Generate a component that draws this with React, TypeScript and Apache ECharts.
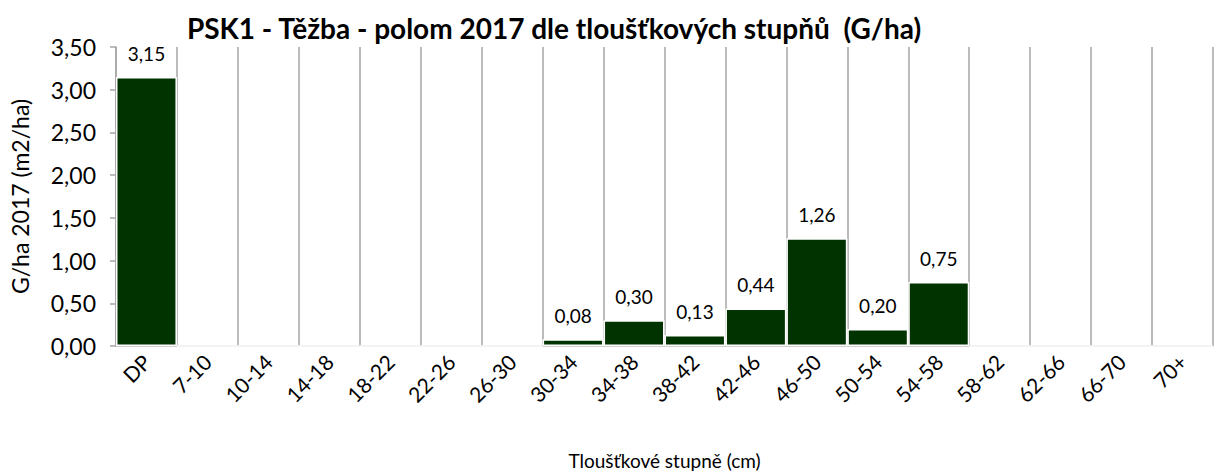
import React, { useEffect, useRef } from "react";
import * as echarts from "echarts";

const categories = ["DP", "7-10", "10-14", "14-18", "18-22", "22-26", "26-30", "30-34", "34-38", "38-42", "42-46", "46-50", "50-54", "54-58", "58-62", "62-66", "66-70", "70+"];
const values = [3.15, 0, 0, 0, 0, 0, 0, 0.08, 0.30, 0.13, 0.44, 1.26, 0.20, 0.75, 0, 0, 0, 0];
const yTicks = { min: 0, max: 3.5, interval: 0.5 };
const title = "PSK1 - Těžba - polom 2017 dle tloušťkových stupňů  (G/ha)";
const yName = "G/ha 2017 (m2/ha)";
const xName = "Tloušťkové stupně (cm)";

const fmt = (v: number) => v.toFixed(2).replace(".", ",");
const FONT = "Lato, 'Open Sans', sans-serif";

export default function App() {
  const ref = useRef<HTMLDivElement>(null);
  useEffect(() => {
    if (!ref.current) return;
    const chart = echarts.init(ref.current, null, { renderer: "svg" });
    chart.setOption({
      animation: false,
      title: {
        text: title,
        left: 549,
        textAlign: "center",
        top: 9,
        textStyle: { fontFamily: FONT, fontSize: 28, fontWeight: "bold", color: "#000" },
      },
      grid: { left: 116, right: 7, top: 47, bottom: 128 },
      xAxis: {
        type: "category",
        data: categories,
        name: xName,
        nameLocation: "middle",
        nameGap: 105,
        nameTextStyle: { fontFamily: FONT, fontSize: 19, color: "#000" },
        axisLine: { lineStyle: { color: "#bfbfbf", width: 1.5 } },
        axisTick: { show: false },
        axisLabel: { rotate: 45, fontFamily: FONT, fontSize: 21, color: "#000", margin: 12, interval: 0 },
        splitLine: { show: true, interval: 0, lineStyle: { color: "#a6a6a6", width: 1.5 } },
      },
      yAxis: {
        type: "value",
        min: yTicks.min,
        max: yTicks.max,
        interval: yTicks.interval,
        name: yName,
        nameLocation: "middle",
        nameGap: 85,
        nameTextStyle: { fontFamily: FONT, fontSize: 23, color: "#000" },
        axisLine: { show: true, lineStyle: { color: "#a6a6a6", width: 1.5 } },
        axisTick: { show: true, inside: false, length: 6, lineStyle: { color: "#a6a6a6", width: 1.5 } },
        axisLabel: { formatter: (v: number) => fmt(v), fontFamily: FONT, fontSize: 23, color: "#000", margin: 20 },
        splitLine: { show: false },
      },
      series: [
        {
          type: "bar",
          data: values,
          barCategoryGap: "0%",
          itemStyle: { color: "#003300", borderColor: "#ffffff", borderWidth: 1.5 },
          label: {
            show: true,
            position: "top",
            distance: 14,
            fontFamily: FONT,
            fontSize: 19,
            color: "#000",
            formatter: (p: any) => (p.value > 0 ? fmt(p.value) : ""),
          },
        },
      ],
    });
    return () => chart.dispose();
  }, []);
  return <div ref={ref} style={{ width: 1220, height: 475, position: "absolute", left: 0, top: 0 }} />;
}
